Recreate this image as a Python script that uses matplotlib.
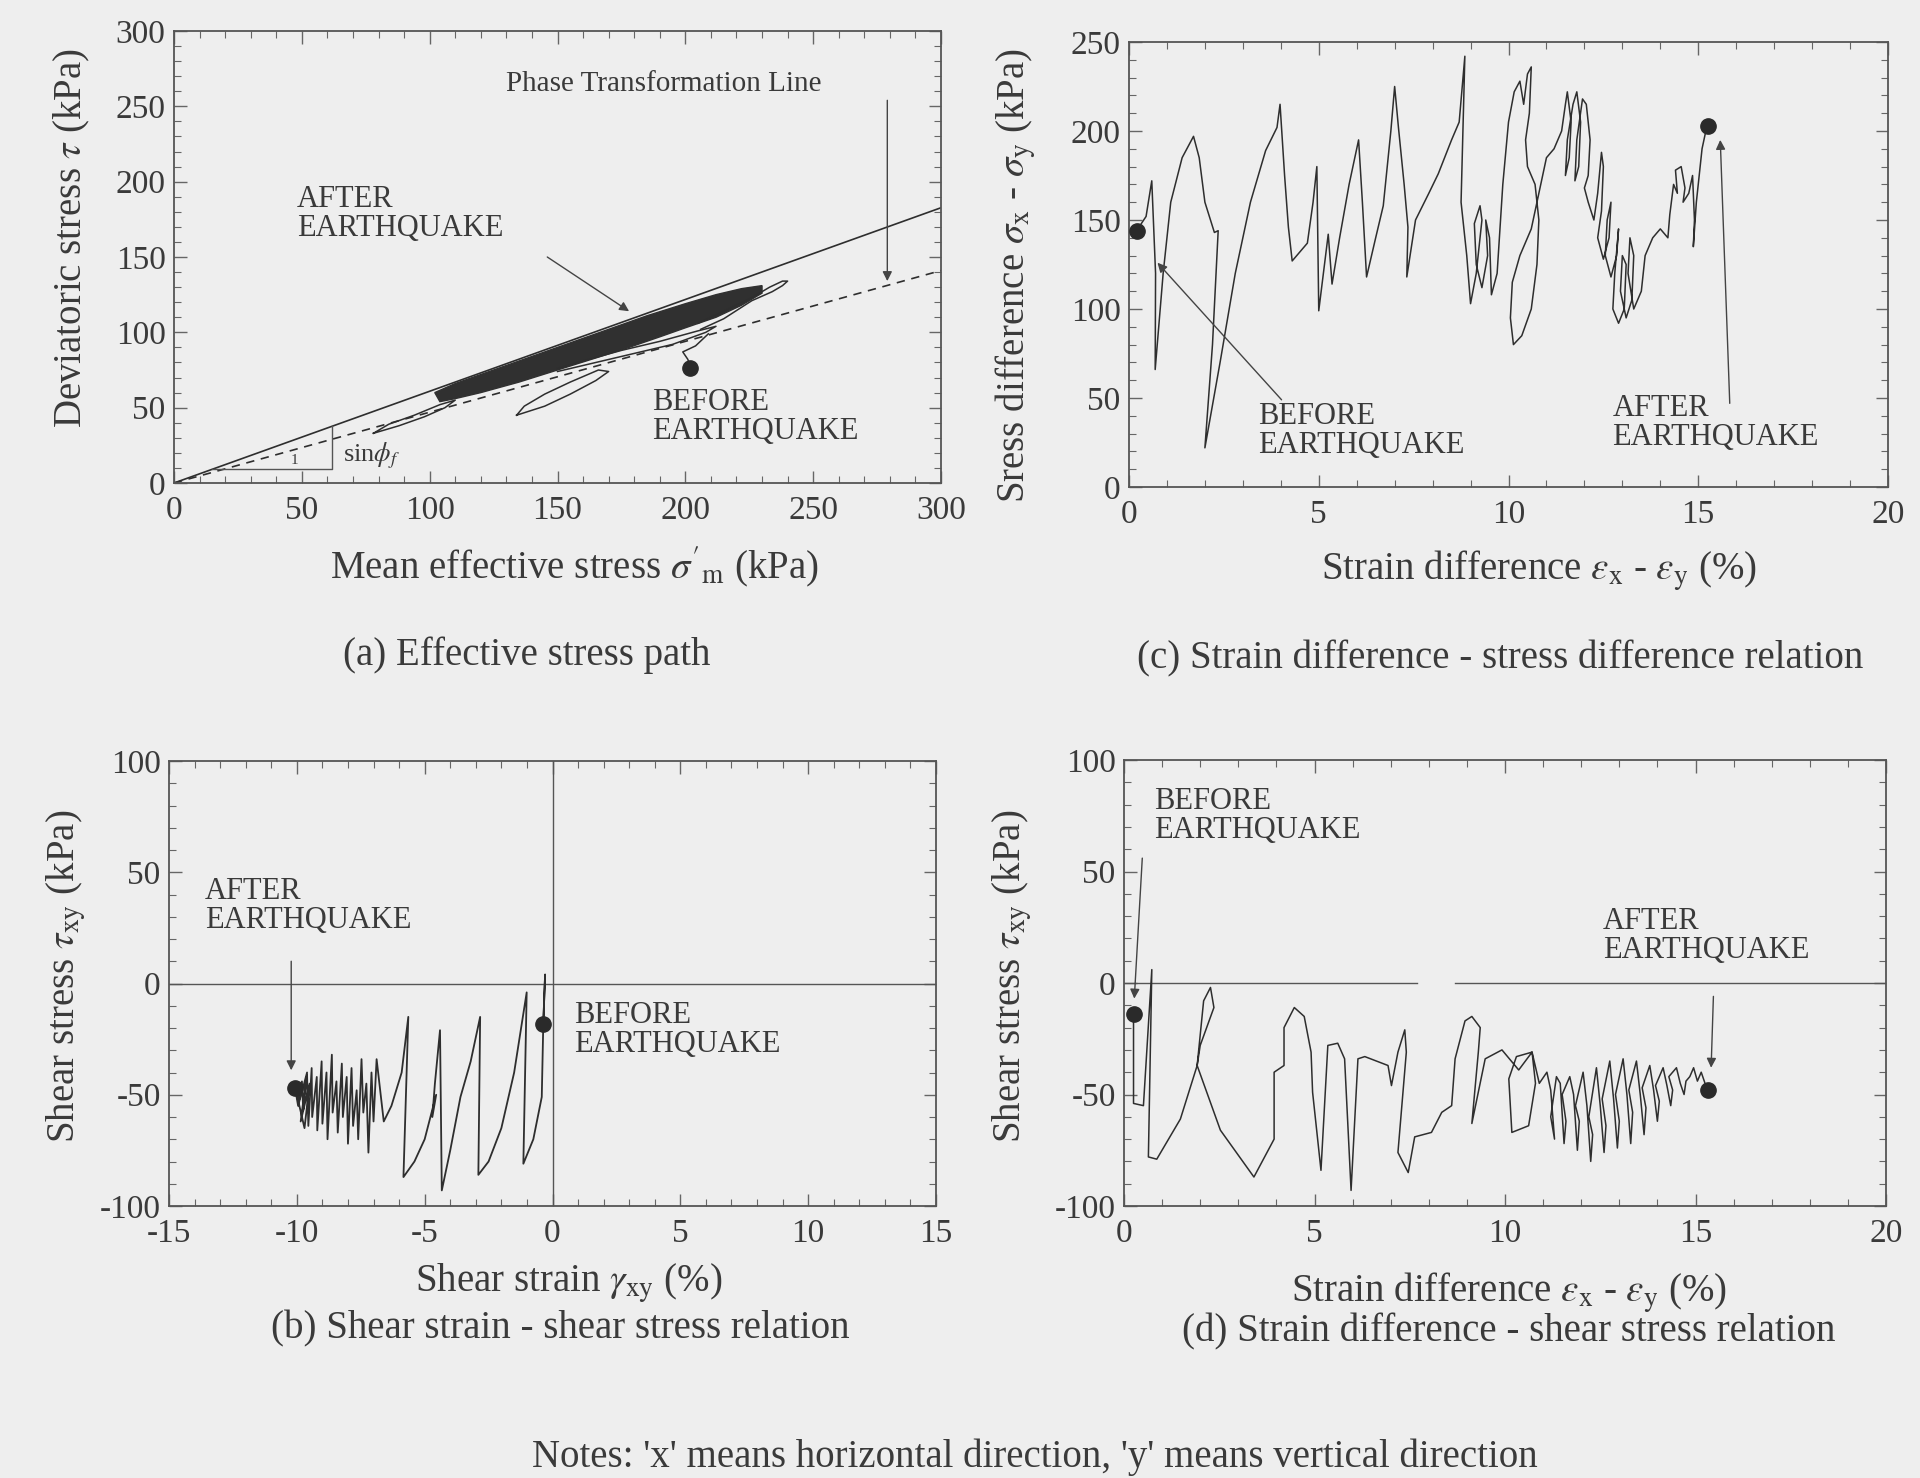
import numpy as np
import matplotlib
matplotlib.use('Agg')
import matplotlib.pyplot as plt
from matplotlib.ticker import MultipleLocator

plt.rcParams['font.family'] = ['Liberation Serif', 'DejaVu Serif']
plt.rcParams['mathtext.fontset'] = 'stix'
plt.rcParams['axes.unicode_minus'] = False

BG = '#eeeeee'
INK = '#2e2e2e'
TXT = '#3a3a3a'
W, H = 1920, 1478

# ---------------- (a) effective stress path ----------------
a_fail_x = [0, 300]
a_fail_y = [0, 182.7]
a_pt_x = [0, 300]
a_pt_y = [0, 141]
a_band_x = [102, 110, 125, 140, 155, 170, 185, 200, 212, 222, 230,
            230, 222, 212, 200, 190, 178, 165, 150, 135, 120, 110, 104]
a_band_y = [60, 66, 75, 84, 93, 102, 111, 119, 125, 129, 131,
            126, 118, 110, 103, 97, 90, 83, 75, 67, 60, 56, 54]
a_tip_x = [205, 215, 226, 233, 238, 240, 238, 234, 226, 215, 206]
a_tip_y = [106, 114, 123, 130, 134, 134, 131, 127, 121, 109, 102]
a_mid_x = [134, 145, 155, 165, 170, 166, 155, 145, 137, 134]
a_mid_y = [45, 51, 59, 68, 74, 75, 67, 59, 51, 45]
a_tail_x = [78, 88, 98, 106, 110, 104, 94, 84, 78]
a_tail_y = [33, 38, 44, 50, 55, 52, 45, 39, 33]
a_low_x = [150, 165, 180, 195, 208, 212, 205, 190, 175, 160, 150]
a_low_y = [74, 80, 86, 92, 100, 104, 101, 94, 88, 81, 76]
a_bef_x = [202, 201, 199, 204, 209]
a_bef_y = [76, 82, 87, 91, 99]
a_before = (202, 76)

# ---------------- (c) strain difference - stress difference ----------------
c_x = [0.2, 0.45, 0.6, 0.7, 0.69, 0.9, 1.1, 1.4, 1.7, 1.85, 2.0, 2.25, 2.35, 2.2, 2.0,
       2.4, 2.8, 3.2, 3.6, 3.9, 3.98, 4.1, 4.2, 4.3, 4.5, 4.7, 4.85, 4.95, 5.0, 5.15,
       5.25, 5.35, 5.55, 5.8, 6.05, 6.15, 6.26, 6.5, 6.7, 6.9, 7.0, 7.1, 7.25, 7.35,
       7.32, 7.55, 7.9, 8.15, 8.5, 8.7, 8.85, 8.75, 8.9, 9.0,
       9.15, 9.3, 9.25, 9.1, 9.15, 9.3, 9.45, 9.4, 9.5, 9.55, 9.7, 9.85, 10.0, 10.15,
       10.3, 10.4, 10.5, 10.6, 10.55, 10.45, 10.5, 10.7, 10.8, 10.75, 10.6, 10.35,
       10.13, 10.05, 10.1, 10.3, 10.6, 10.85, 11.0, 11.2, 11.4, 11.5, 11.55, 11.65,
       11.6, 11.5, 11.55, 11.7, 11.8, 11.9, 11.85, 11.75, 11.8, 11.95, 12.05, 12.15,
       12.1, 12.0, 12.1, 12.25, 12.35, 12.45, 12.5, 12.45, 12.35, 12.5, 12.65, 12.7,
       12.6, 12.55, 12.7, 12.85, 12.9, 12.8, 12.75, 12.9, 13.05, 13.1, 13.0, 12.95,
       13.1, 13.25, 13.3, 13.2, 13.15, 13.3, 13.5, 13.6, 13.8, 14.0, 14.2, 14.25,
       14.35, 14.45, 14.4, 14.55, 14.65, 14.6, 14.75, 14.85, 14.9, 14.87, 14.95,
       15.05, 15.1, 15.2, 15.27]
c_y = [144, 152, 172, 120, 66, 120, 160, 185, 197, 185, 160, 143, 144, 80, 22,
       70, 120, 160, 189, 202, 215, 175, 146, 127, 132, 137, 160, 180, 99, 125,
       142, 114, 140, 170, 195, 160, 118, 140, 158, 200, 225, 202, 170, 146,
       118, 150, 165, 176, 195, 205, 242, 160, 130, 103,
       120, 150, 158, 148, 125, 112, 130, 150, 140, 108, 120, 170, 205, 222,
       228, 215, 232, 236, 210, 195, 180, 170, 150, 125, 100, 85,
       80, 95, 115, 130, 145, 170, 185, 190, 200, 215, 222, 205,
       185, 175, 195, 215, 222, 205, 180, 172, 195, 218, 215, 195,
       175, 168, 160, 150, 165, 188, 180, 155, 140, 128, 140, 160,
       150, 130, 118, 130, 145, 120, 100, 92, 100, 125, 130, 110,
       95, 105, 130, 140, 120, 100, 110, 130, 140, 145, 140, 153,
       170, 165, 178, 180, 168, 160, 165, 175, 150, 135, 160,
       180, 190, 200, 203]
c_before = (0.2, 144)
c_after = (15.27, 203)

# ---------------- (b) shear strain - shear stress ----------------
b_x = [-0.36, -0.29, -0.36, -0.42, -0.75, -1.14, -1.01, -1.5, -2.0, -2.5, -2.9,
       -2.83, -3.2, -3.6, -4.0, -4.33, -4.4, -4.6, -4.7, -4.55, -5.0, -5.4, -5.83,
       -5.64, -5.9, -6.3, -6.6, -6.88,
       -7.0, -7.08, -7.2, -7.28, -7.4, -7.47, -7.6, -7.66, -7.8, -7.86, -8.0, -8.05,
       -8.2, -8.24, -8.4, -8.45, -8.6, -8.63, -8.8, -8.84, -9.0, -9.03, -9.2, -9.22,
       -9.4, -9.42, -9.55, -9.6, -9.75, -9.8, -9.9, -10.0,
       -9.7, -9.5, -9.85, -9.6, -9.95, -10.07]
b_y = [-18, 4, -18, -51, -70, -81, -4, -40, -65, -80, -86,
       -15, -35, -51, -75, -93, -21, -45, -60, -50, -70, -80, -87,
       -15, -40, -55, -62, -34,
       -62, -40, -76, -45, -58, -34, -70, -48, -64, -38, -72, -42,
       -60, -36, -67, -44, -58, -32, -70, -40, -63, -35, -66, -42,
       -60, -38, -64, -41, -57, -44, -52, -50,
       -65, -45, -62, -40, -55, -47]
b_before = (-0.36, -18)
b_after = (-10.07, -47)

# ---------------- (d) strain difference - shear stress ----------------
d_x = [0.25, 0.25, 0.51, 0.73, 0.64, 0.86, 1.48, 1.92, 2.09, 2.27, 2.36, 2.0, 1.92,
       2.53, 3.41, 3.94, 3.94, 4.2, 4.2, 4.47, 4.73, 4.91, 4.95, 5.17, 5.35, 5.61,
       5.79, 5.96, 6.14, 6.32, 6.93, 7.02, 7.19, 7.37, 7.41, 7.19, 7.46, 7.63, 8.07,
       8.34, 8.6, 8.69, 8.95, 9.13, 9.35, 9.3, 9.13, 9.48, 9.92, 10.36, 10.71, 10.8,
       10.62, 10.18, 10.1, 10.3, 10.71, 10.9, 11.1, 11.2, 11.3, 11.2, 11.35, 11.45,
       11.55, 11.6, 11.5, 11.7, 11.8, 11.9, 11.95, 11.85, 12.05, 12.15, 12.25, 12.3,
       12.2, 12.4, 12.5, 12.6, 12.65, 12.55, 12.75, 12.85, 12.95, 13.0, 12.9, 13.1,
       13.2, 13.3, 13.35, 13.25, 13.45, 13.55, 13.65, 13.7, 13.6, 13.8, 13.9, 14.0,
       14.05, 13.95, 14.15, 14.25, 14.35, 14.4, 14.3, 14.5, 14.6, 14.7, 14.75, 14.85,
       14.95, 15.05, 15.15, 15.25, 15.33]
d_y = [-14, -54, -55, 6, -78, -79, -61, -37, -8, -2, -11, -28, -37,
       -66, -87, -70, -40, -37, -20, -11, -15, -31, -49, -84, -28, -27,
       -34, -93, -34, -33, -37, -46, -31, -21, -31, -76, -85, -69, -67,
       -58, -55, -34, -17, -15, -20, -31, -63, -34, -30, -39, -31, -45,
       -64, -67, -43, -33, -31, -45, -40, -48, -70, -60, -42, -45,
       -72, -62, -50, -42, -50, -75, -62, -55, -40, -55, -80, -68,
       -60, -38, -55, -76, -64, -52, -35, -52, -74, -62, -50, -34,
       -50, -72, -58, -48, -35, -50, -68, -56, -47, -37, -48, -62,
       -53, -46, -38, -46, -55, -48, -42, -38, -45, -50, -44, -42,
       -38, -44, -40, -45, -48]
d_before = (0.25, -14)
d_after = (15.33, -48)

fig = plt.figure(figsize=(W / 100, H / 100), dpi=100, facecolor=BG)


def px_axes(l, t, r, b):
    return fig.add_axes([l / W, 1 - b / H, (r - l) / W, (b - t) / H])


def ftext(x, y, s, **kw):
    kw.setdefault('color', TXT)
    fig.text(x / W, 1 - y / H, s, ha='center', va='center', **kw)


def style(ax, xlim, ylim, xmaj, xmin, ymaj, ymin):
    ax.set_facecolor(BG)
    ax.set_xlim(*xlim)
    ax.set_ylim(*ylim)
    ax.xaxis.set_major_locator(MultipleLocator(xmaj))
    ax.xaxis.set_minor_locator(MultipleLocator(xmin))
    ax.yaxis.set_major_locator(MultipleLocator(ymaj))
    ax.yaxis.set_minor_locator(MultipleLocator(ymin))
    ax.tick_params(which='both', direction='in', top=True, right=True,
                   colors='#666666', labelcolor=TXT, labelsize=24)
    ax.tick_params(which='major', length=9, width=1.0)
    ax.tick_params(which='minor', length=5, width=0.8)
    ax.tick_params(axis='x', which='major', pad=9)
    ax.tick_params(axis='y', which='major', pad=6)
    for s in ax.spines.values():
        s.set_color('#555555')
        s.set_linewidth(1.3)


def arrow(ax, start, end):
    ax.annotate('', xy=end, xytext=start,
                arrowprops=dict(arrowstyle='-|>', color='#444444', lw=1.0,
                                mutation_scale=14, shrinkA=0, shrinkB=0))


note_kw = dict(fontsize=22, color=TXT, linespacing=1.0, va='top', ha='left')
dot_kw = dict(marker='o', ms=11, color='#2a2a2a', zorder=5)

# (a)
ax = px_axes(174, 31, 941, 483)
style(ax, (0, 300), (0, 300), 50, 10, 50, 10)
ax.plot(a_fail_x, a_fail_y, color=INK, lw=1.2)
ax.plot(a_pt_x, a_pt_y, color=INK, lw=1.2, ls=(0, (5, 4)))
ax.fill(a_band_x, a_band_y, color='#303030', lw=1.0)
for xs, ys in [(a_tip_x, a_tip_y), (a_mid_x, a_mid_y), (a_tail_x, a_tail_y),
               (a_low_x, a_low_y), (a_bef_x, a_bef_y)]:
    ax.plot(xs, ys, color=INK, lw=1.1)
ax.plot(*a_before, **dot_kw)
ax.plot([14.8, 61.7, 61.7], [9, 9, 37.6], color='#555555', lw=1.0)
ax.text(47, 10.5, '1', fontsize=11, color=TXT, ha='center', va='bottom')
ax.text(66, 18, r'sin$\phi_f$', fontsize=19, color=TXT, ha='left', va='center')
ax.text(130, 265, 'Phase Transformation Line', fontsize=21, color=TXT,
        ha='left', va='center')
arrow(ax, (279, 254), (279, 134))
ax.text(48, 198, 'AFTER\nEARTHQUAKE', **note_kw)
arrow(ax, (146, 150), (178, 114))
ax.text(187, 63, 'BEFORE\nEARTHQUAKE', **note_kw)

# (c)
ax = px_axes(1129, 42, 1888, 487)
style(ax, (0, 20), (0, 250), 5, 1, 50, 10)
ax.plot(c_x, c_y, color=INK, lw=1.1)
ax.plot(*c_before, **dot_kw)
ax.plot(*c_after, **dot_kw)
arrow(ax, (4.02, 49), (0.75, 126))
arrow(ax, (15.83, 47), (15.58, 195))
ax.text(3.4, 48, 'BEFORE\nEARTHQUAKE', **note_kw)
ax.text(12.74, 52, 'AFTER\nEARTHQUAKE', **note_kw)

# (b)
ax = px_axes(169, 761, 936, 1206)
style(ax, (-15, 15), (-100, 100), 5, 1, 50, 10)
ax.axhline(0, color='#555555', lw=1.0)
ax.axvline(0, color='#555555', lw=1.0)
ax.plot(b_x, b_y, color=INK, lw=1.3)
ax.plot(*b_before, **dot_kw)
ax.plot(*b_after, **dot_kw)
arrow(ax, (-10.22, 10), (-10.22, -39))
ax.text(-13.6, 48, 'AFTER\nEARTHQUAKE', **note_kw)
ax.text(0.85, -8, 'BEFORE\nEARTHQUAKE', **note_kw)

# (d)
ax = px_axes(1124, 760, 1886, 1206)
style(ax, (0, 20), (-100, 100), 5, 1, 50, 10)
ax.plot([0, 7.7], [0, 0], color='#555555', lw=1.0)
ax.plot([8.7, 20], [0, 0], color='#555555', lw=1.0)
ax.plot(d_x, d_y, color=INK, lw=1.1)
ax.plot(*d_before, **dot_kw)
ax.plot(*d_after, **dot_kw)
arrow(ax, (0.48, 56), (0.27, -7))
arrow(ax, (15.47, -6), (15.41, -38))
ax.text(0.8, 88, 'BEFORE\nEARTHQUAKE', **note_kw)
ax.text(12.57, 34, 'AFTER\nEARTHQUAKE', **note_kw)

# axis labels and captions
lab = dict(fontsize=28)
ftext(72, 238, r'Deviatoric stress $\tau$ (kPa)', rotation=90, **lab)
ftext(575, 567, r"Mean effective stress $\sigma'_{\rm m}$ (kPa)", **lab)
ftext(1016, 276, r'Sress difference $\sigma_{\rm x}$ - $\sigma_{\rm y}$ (kPa)', rotation=90, **lab)
ftext(1539, 571, r'Strain difference $\varepsilon_{\rm x}$ - $\varepsilon_{\rm y}$ (%)', **lab)
ftext(66, 976, r'Shear stress $\tau_{\rm xy}$ (kPa)', rotation=90, **lab)
ftext(569, 1283, r'Shear strain $\gamma_{\rm xy}$ (%)', **lab)
ftext(1012, 976, r'Shear stress $\tau_{\rm xy}$ (kPa)', rotation=90, **lab)
ftext(1509, 1293, r'Strain difference $\varepsilon_{\rm x}$ - $\varepsilon_{\rm y}$ (%)', **lab)

cap = dict(fontsize=28)
ftext(527, 655, '(a) Effective stress path', **cap)
ftext(1500, 659, '(c) Strain difference - stress difference relation', **cap)
ftext(560, 1329, '(b) Shear strain - shear stress relation', **cap)
ftext(1509, 1332, '(d) Strain difference - shear stress relation', **cap)
ftext(1035, 1457, "Notes: 'x' means horizontal direction, 'y' means vertical direction", **cap)

fig.savefig('out.png', dpi=100, facecolor=BG)
